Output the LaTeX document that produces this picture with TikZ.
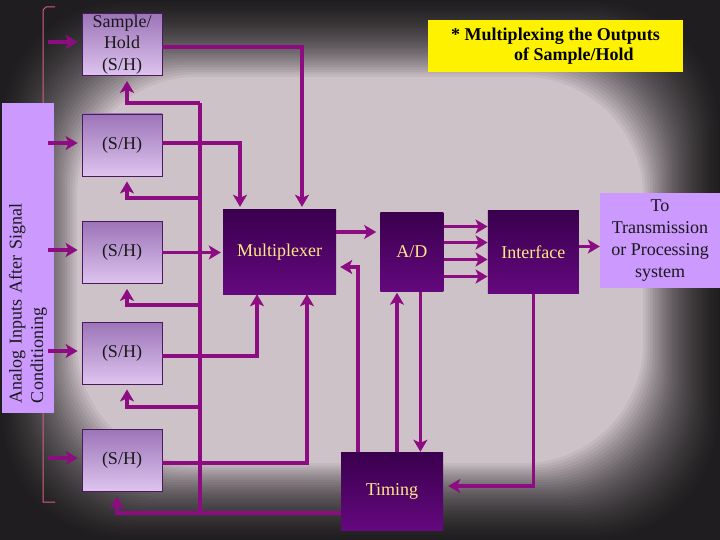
\documentclass[tikz,border=0pt]{standalone}
\usepackage{fontspec}
\setmainfont{Liberation Serif}
\usepackage{tikz}
\usetikzlibrary{arrows.meta,positioning}
\definecolor{plum}{RGB}{142,12,130}
\definecolor{shtop}{RGB}{156,116,184}
\definecolor{shbot}{RGB}{222,196,238}
\definecolor{shedge}{RGB}{74,26,96}
\definecolor{darktop}{RGB}{58,0,78}
\definecolor{darkbot}{RGB}{100,8,126}
\definecolor{lilac}{RGB}{204,153,255}
\definecolor{gold}{RGB}{255,233,133}
\definecolor{bgmid}{RGB}{206,194,201}
\definecolor{brace}{RGB}{214,96,128}

\begin{document}
\begin{tikzpicture}[x=1pt,y=-1pt,font=\fontsize{18}{21.7}\selectfont]
\tikzstyle{shbox}=[draw=shedge,line width=0.8pt,top color=shtop,bottom color=shbot,minimum width=80pt,minimum height=62pt,inner sep=0pt,align=center,text=black!90]
\tikzstyle{darkbox}=[top color=darktop,bottom color=darkbot,inner sep=0pt,text=gold]
\tikzstyle{lilacbox}=[fill=lilac,inner sep=0pt,align=center,text=black!90]
\tikzstyle{wire}=[draw=plum,line width=3.5pt]
\tikzstyle{arrow}=[wire,-{Stealth[length=12pt,width=14pt,inset=3pt]}]
\useasboundingbox (0,0) rectangle (720,540);
% backdrop, darker towards the frame
\fill [bgmid] (0,0) rectangle (720,540);
\foreach \k in {1,...,32}
\fill [black,opacity=0.052,even odd rule] (0,0) rectangle (720,540) [rounded corners=120pt] (2.4*\k,2.4*\k) rectangle (720-2.4*\k,540-2.4*\k);
\draw [brace,line width=1pt] (55,7) -- (46,7) -- (43,10) -- (43,502) -- (55,502);
\node [lilacbox,rotate=90,minimum width=310pt,minimum height=52pt,text width=290pt,align=left] at (28,258) (lbl) {Analog Inputs After Signal\\Conditioning};
\node [shbox] at (122,44.5) (sh1) {Sample/\\Hold\\(S/H)};
\node [shbox] at (122,145) (sh2) {(S/H)};
\node [shbox] at (122,252.5) (sh3) {(S/H)};
\node [shbox] at (122,353) (sh4) {(S/H)};
\node [shbox] at (122,460) (sh5) {(S/H)};
\node [fill=yellow,minimum width=255pt,minimum height=52pt,inner sep=0pt,align=left,font=\fontsize{18}{20}\selectfont\bfseries] at (555.5,46) (note) {* Multiplexing the Outputs\\\hspace*{63pt}of Sample/Hold};
\node [darkbox,minimum width=113pt,minimum height=84pt] at (279.5,252) (mux) {Multiplexer};
\node [darkbox,minimum width=63pt,minimum height=79pt,right=44pt of mux] (ad) {A/D};
\node [darkbox,minimum width=91pt,minimum height=83pt,right=44pt of ad] (intf) {Interface};
\node [lilacbox,minimum width=120pt,minimum height=95pt] at (660,240.5) (out) {To\\Transmission\\or Processing\\system};
\node [darkbox,minimum width=102pt,minimum height=78pt] at (392,491) (tim) {Timing};
% analog inputs
\foreach \i/\yy in {1/42,2/143,3/250,4/351,5/458}
{
\coordinate (in\i) at (48,\yy);
\draw [arrow,shorten >=4pt] (in\i) -- (in\i -| sh\i.west);
}
% S/H outputs into the multiplexer
\draw [arrow,shorten >=3pt] ([yshift=-2.5pt]sh1.east) -| ([xshift=22.5pt]mux.north);
\draw [arrow,shorten >=3pt] ([yshift=2pt]sh2.east) -| ([xshift=-39.5pt]mux.north);
\draw [arrow,shorten >=2pt] (sh3.east) -- (sh3.east -| mux.west);
\draw [arrow] ([yshift=-3pt]sh4.east) -| ([xshift=-22.5pt]mux.south);
\draw [arrow] ([yshift=-3pt]sh5.east) -| ([xshift=27.5pt]mux.south);
% timing bus back to the S/H stages
\coordinate (bustop) at (200,103);
\coordinate (busbot) at (200,513);
\draw [wire] (bustop) -- (busbot);
\draw [arrow,shorten >=5pt] ([yshift=-22pt]tim.west) -| ([xshift=-5pt]sh5.south);
\foreach \i/\yy in {1/103,2/198,3/305,4/407}
{
\coordinate (tap\i) at (200,\yy);
\draw [arrow,shorten >=5pt] (tap\i) -| ([xshift=5pt]sh\i.south);
}
% timing, converter and interface
\draw [arrow,shorten >=4pt] ([xshift=-34pt]tim.north) |- ([yshift=-15pt]mux.east);
\draw [arrow,shorten >=1pt] ([xshift=5pt]tim.north) -- ([xshift=5pt]tim.north |- ad.south);
\draw [arrow] ([xshift=8.5pt]ad.south) -- ([xshift=8.5pt]ad.south |- tim.north);
\draw [arrow,shorten >=4pt] ([yshift=20pt]mux.east) -- ([yshift=20pt]mux.east -| ad.west);
\foreach \d in {25.5,9.5,-7.5,-24.5}
\draw [arrow] ([yshift=\d pt]ad.east) -- ([yshift=\d pt]ad.east -| intf.west);
\draw [arrow] ([yshift=5.5pt]intf.east) -- ([yshift=5.5pt]intf.east -| out.west);
\draw [arrow,shorten >=5pt] (intf.south) |- ([yshift=5pt]tim.east);
\end{tikzpicture}
\end{document}
